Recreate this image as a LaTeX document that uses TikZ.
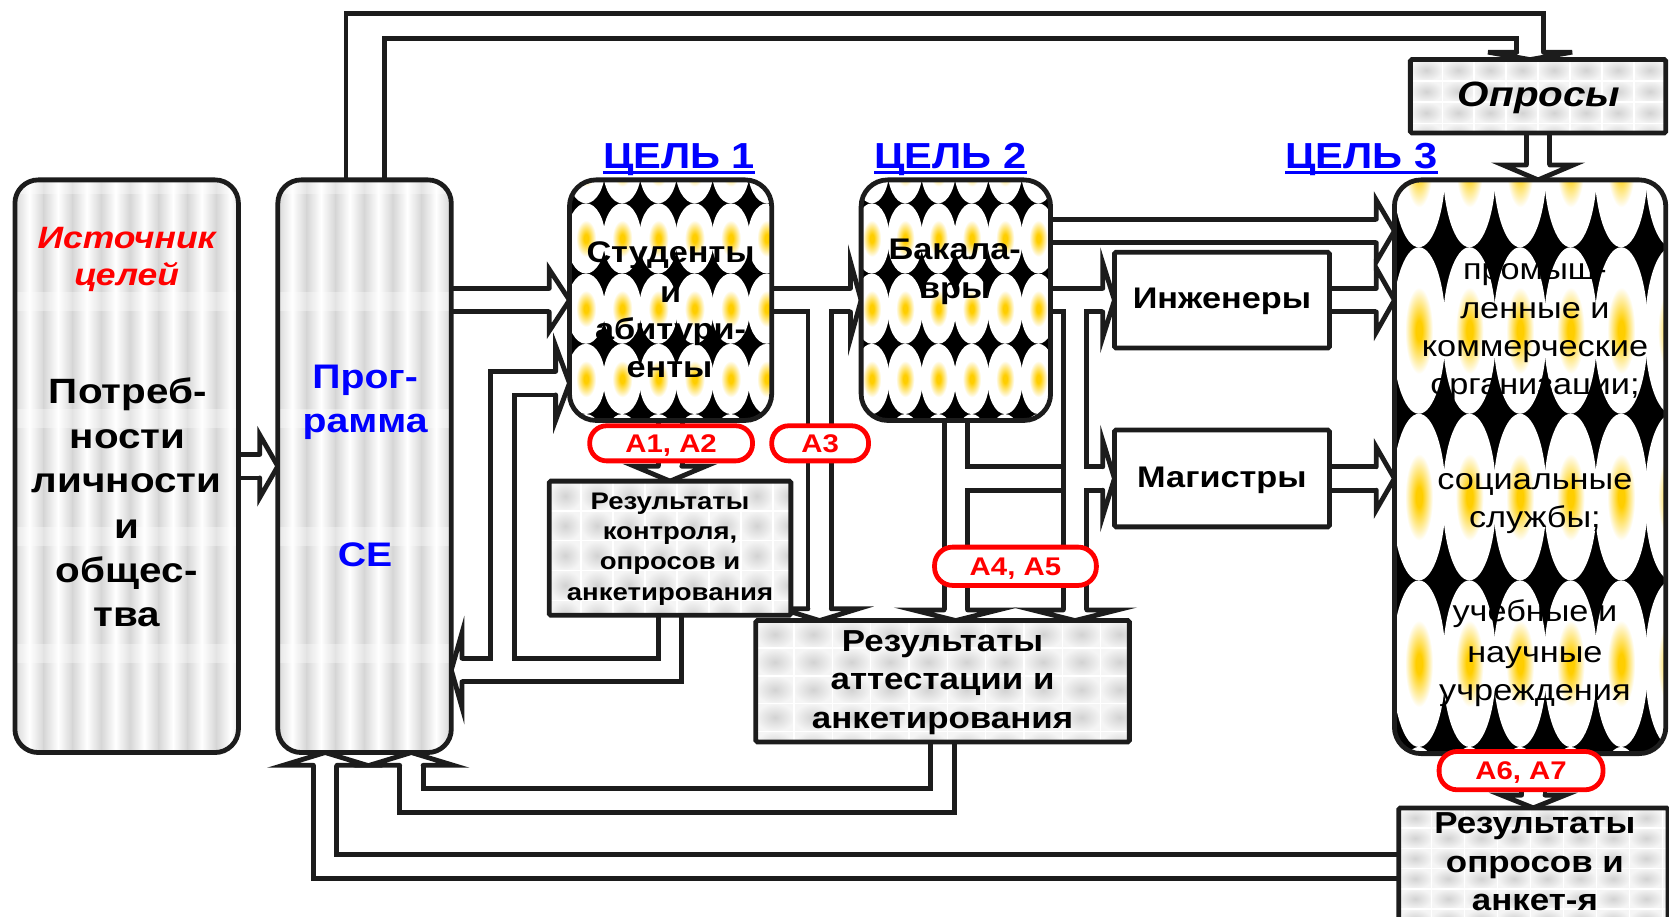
\documentclass[tikz,border=0pt]{standalone}
\usepackage{fontspec}
\setmainfont{Liberation Sans}[FakeStretch=1.15]
\usetikzlibrary{calc}
\definecolor{ink}{RGB}{28,28,28}
\definecolor{gold}{RGB}{255,206,0}
\definecolor{cblue}{RGB}{0,0,255}
\definecolor{cred}{RGB}{255,0,0}
\pgfdeclarelayer{bg}
\pgfsetlayers{bg,main}
\pgfdeclareradialshading{yspot}{\pgfpoint{0bp}{0bp}}{color(0bp)=(gold); color(3bp)=(gold); color(13bp)=(white); color(25bp)=(white); color(50bp)=(white)}

\newcommand\silverfill[4]{%
 \begin{scope}
  \clip[rounded corners=22pt] (#1,#2) rectangle (#3,#4);
  \fill[gray!22] (#1,#2) rectangle (#3,#4);
  \pgfmathsetmacro\xb{#1+27}
  \foreach \x in {#1,\xb,...,#3}
    \shade[left color=gray!32, right color=gray!32, middle color=white] (\x,#2) rectangle (\x+27,#4);
  \foreach \y in {173,283,393,504,614}
    \fill[white, opacity=.35] (#1,\y-9) rectangle (#3,\y+9);
 \end{scope}}

\newcommand\ovalfill[8]{%
 \begin{scope}
  \clip[rounded corners=24pt] (#1,#2) rectangle (#3,#4);
  \fill[black] (#1,#2) rectangle (#3,#4);
  \pgfmathsetmacro\xb{#5+#6}\pgfmathsetmacro\xe{#3+#6/2}
  \pgfmathsetmacro\yb{#7+#8}\pgfmathsetmacro\ye{#4+#8/2}
  \pgfmathsetmacro\rx{#6*0.53}\pgfmathsetmacro\ry{#8/2}
  \foreach \x in {#5,\xb,...,\xe}
   \foreach \y in {#7,\yb,...,\ye}
    \shade[shading=yspot] (\x,\y) ellipse [x radius=\rx, y radius=\ry];
 \end{scope}}

\newcommand\tilefill[6]{%
 \begin{scope}
  \clip (#1,#2) rectangle (#3,#4);
  \fill[gray!8] (#1,#2) rectangle (#3,#4);
  \pgfmathsetmacro\xb{#1+#5}\pgfmathsetmacro\yb{#2+#6}
  \pgfmathsetmacro\rx{#5/2}\pgfmathsetmacro\ry{#6/2}
  \foreach \x in {#1,\xb,...,#3}
   \foreach \y in {#2,\yb,...,#4}
    \shade[inner color=gray!35, outer color=gray!8] (\x+\rx,\y+\ry) ellipse [x radius=\rx, y radius=\ry];
  \foreach \x in {#1,\xb,...,#3} \draw[white, line width=1.4pt] (\x,#2) -- (\x,#4);
  \foreach \y in {#2,\yb,...,#4} \draw[white, line width=1.4pt] (#1,\y) -- (#3,\y);
 \end{scope}}

\newcommand\ahead[4]{%
 \begin{scope}[shift={#1}, rotate=#2]
  \fill[white] (0,0) -- (-#4,#3) -- (-#4,-#3) -- cycle;
  \draw[headln] (-#4,11) -- (-#4,#3) -- (0,0) -- (-#4,-#3) -- (-#4,-11);
 \end{scope}}

\begin{document}
\begin{tikzpicture}[x=1pt, y=-1pt,
  ln/.style={draw=ink, line width=4.5pt},
  rbox/.style={ln, rounded corners=22pt, inner sep=0pt, outer sep=0pt},
  sbox/.style={ln, rounded corners=1.5pt, inner sep=0pt, outer sep=0pt},
  pill/.style={draw=cred, line width=4.5pt, fill=white, rounded corners=16pt, inner sep=0pt, outer sep=0pt, text=cred, font=\bfseries\fontsize{24}{24}\selectfont, text height=17pt, text depth=0pt},
  pipeB/.style={draw=ink, line width=26.5pt},
  pipe/.style={draw=white, line width=17.5pt, preaction={pipeB}},
  headln/.style={draw=ink, line width=4.5pt, line cap=round, line join=miter},
  tx/.style={inner sep=0pt, anchor=base, text=black},
  tsrc/.style={tx, font=\bfseries\fontsize{33}{40}\selectfont},
  tsrcr/.style={tx, text=cred, font=\bfseries\itshape\fontsize{29}{35}\selectfont},
  tprog/.style={tx, text=cblue, font=\bfseries\fontsize{32}{40}\selectfont},
  tgoal/.style={tx, text=cblue, font=\bfseries\fontsize{34}{40}\selectfont},
  tmid/.style={tx, font=\bfseries\fontsize{28}{34}\selectfont},
  tbig/.style={tx, font=\fontsize{28}{34}\selectfont},
  trk/.style={tx, font=\bfseries\fontsize{22.5}{27}\selectfont},
  tra/.style={tx, font=\bfseries\fontsize{28.5}{34}\selectfont},
  topr/.style={tx, font=\bfseries\itshape\fontsize{33}{38}\selectfont},
]
\useasboundingbox (0,0) rectangle (1568,861);

% ---------- fills ----------
\silverfill{14}{169}{224}{707}
\silverfill{261}{169}{424}{707}
\ovalfill{535}{169}{725}{395}{550.5}{34}{158}{66}
\ovalfill{809}{169}{987}{395}{819}{31.3}{158}{66}
\ovalfill{1310}{169}{1565}{708}{1333}{47.5}{154}{156.5}
\tilefill{1325}{56}{1565}{125}{30}{20}
\tilefill{516}{452}{743}{578}{30}{28}
\tilefill{710}{583}{1061}{697}{36}{26}
\tilefill{1314}{759}{1567}{880}{31}{19}

% ---------- boxes ----------
\node[rbox, minimum width=210pt, minimum height=538pt] (src) at (119,438) {};
\node[rbox, minimum width=163pt, minimum height=538pt] (prog) at (342.5,438) {};
\node[rbox, rounded corners=25pt, minimum width=190pt, minimum height=226pt] (stud) at (630,282) {};
\node[rbox, rounded corners=25pt, minimum width=178pt, minimum height=226pt] (bach) at (898,282) {};
\node[sbox, fill=white, minimum width=202pt, minimum height=90pt] (eng) at (1148,282) {};
\node[sbox, fill=white, minimum width=202pt, minimum height=91pt] (mag) at (1148,449.5) {};
\node[rbox, rounded corners=25pt, minimum width=255pt, minimum height=539pt] (big) at (1437.5,438.5) {};
\node[sbox, minimum width=240pt, minimum height=69pt] (opr) at (1445,90.5) {};
\node[sbox, minimum width=227pt, minimum height=126pt] (rk) at (629.5,515) {};
\node[sbox, minimum width=351pt, minimum height=114pt] (ra) at (885.5,640) {};
\node[sbox, minimum width=253pt, minimum height=110pt] (ro) at (1440.5,814) {};

% ---------- connectors ----------
\begin{pgfonlayer}{bg}
\draw[pipe]
  (src.east) -- (244,438)
  (prog.east |- stud.west) -- (516,282)
  (stud.east) -- (799,282)
  (770,282) -- (770,572)
  (bach.east) -- (1036,282)
  (1010,282) -- (1010,573)
  (1010,449.5) -- (1036,449.5)
  (bach.south) -- (898,573)
  (898,449.5) -- (996.75,449.5)
  (bach.east |- 0,217) -- (1293,217)
  (eng.east) -- (1293,282)
  (mag.east) -- (1293,449.5)
  (opr.south) -- (1445,155)
  (ro.north |- big.south) -- (1440.5,747)
  (stud.south) -- (630,438)
  (rk.south) -- (629.5,629.5) -- (434,629.5)
  (472,629.5) -- (472,360) -- (522,360)
  (ra.south) -- (885.5,752) -- (386.5,752) -- (386.5,719)
  (ro.west) -- (305.5,814) -- (305.5,719);
\ahead{(prog.west)}{0}{29.5}{17}
\ahead{(stud.west)}{0}{29}{19}
\ahead{(bach.west)}{0}{36}{10}
\ahead{(770,583)}{-90}{36}{11}
\ahead{(eng.west)}{0}{35}{11}
\ahead{(1010,583)}{-90}{40}{10}
\ahead{(mag.west)}{0}{35.5}{11}
\ahead{(898,583)}{-90}{40}{10}
\ahead{(big.west |- 0,217)}{0}{29}{17}
\ahead{(big.west |- eng.east)}{0}{30}{17}
\ahead{(big.west |- mag.east)}{0}{29.5}{17}
\ahead{(opr.south |- big.north)}{-90}{33}{14}
\ahead{(ro.north)}{-90}{30}{12}
\ahead{(rk.north)}{-90}{33.5}{14}
\ahead{(prog.east |- 0,629.5)}{180}{35}{10}
\ahead{(stud.west |- 0,360)}{0}{35}{13}
\ahead{(386.5,707)}{90}{39.5}{12}
\ahead{(305.5,707)}{90}{39.5}{12}
% top loop to "Опросы"
\draw[ln] (prog.north -| 325,0) -- (325,13) -- (1450,13) -- (1450,49);
\draw[ln] (prog.north -| 361,0) -- (361,36) -- (1425,36) -- (1425,49);
\fill[white] (1398,49) -- (1437.5,56) -- (1477,49) -- cycle;
\draw[headln] (1425,49) -- (1398,49) -- (1437.5,56) -- (1477,49) -- (1450,49);
\end{pgfonlayer}

% ---------- texts ----------
\node[tsrcr] (s1) at (119,233) {Источник};
\node[tsrcr] (s2) at (119,268) {целей};
\node[tsrc] (s3) at (120,379.5) {Потреб-};
\node[tsrc] (s4) at (120,421) {ности};
\node[tsrc] (s5) at (119,463) {личности};
\node[tsrc] (s6) at (119,505.5) {и};
\node[tsrc] (s7) at (119,547) {общес-};
\node[tsrc] (s8) at (119,589) {тва};

\node[tprog] (p1) at (343,365) {Прог-};
\node[tprog] (p2) at (343,406) {рамма};
\node[tprog] (p3) at (343,532.5) {СЕ};

\node[tgoal] (g1) at (638,158) {ЦЕЛЬ 1};
\node[tgoal] (g2) at (893,158) {ЦЕЛЬ 2};
\node[tgoal] (g3) at (1279,158) {ЦЕЛЬ 3};
\foreach \g in {g1,g2,g3}
  \draw[cblue, line width=3pt] ([yshift=-4pt]\g.base west) -- ([yshift=-4pt]\g.base east);

\node[tmid] (st1) at (630,247) {Студенты};
\node[tmid] (st2) at (630,284) {и};
\node[tmid] (st3) at (630,319) {абитури-};
\node[tmid] (st4) at (629,355) {енты};

\node[tmid] (b1) at (897,244) {Бакала-};
\node[tmid] (b2) at (897,280) {вры};

\node[tmid] (e1) at (1148,290) {Инженеры};
\node[tmid] (m1) at (1148,458) {Магистры};

\node[tbig] (o1) at (1442,263) {промыш-};
\node[tbig] (o2) at (1442,299) {ленные и};
\node[tbig] (o3) at (1442,335) {коммерческие};
\node[tbig] (o4) at (1442,371) {организации;};
\node[tbig] (o5) at (1442,460) {социальные};
\node[tbig] (o6) at (1442,496) {службы;};
\node[tbig] (o7) at (1442,584) {учебные и};
\node[tbig] (o8) at (1442,622) {научные};
\node[tbig] (o9) at (1442,658) {учреждения};

\node[topr] (q1) at (1446,100) {Опросы};

\node[trk] (k1) at (629.5,479) {Результаты};
\node[trk] (k2) at (629.5,507) {контроля,};
\node[trk] (k3) at (629.5,535.5) {опросов и};
\node[trk] (k4) at (629.5,564) {анкетирования};

\node[tra] (a1) at (885.5,612) {Результаты};
\node[tra] (a2) at (885.5,648) {аттестации и};
\node[tra] (a3) at (885.5,684) {анкетирования};

\node[tra] (r1) at (1442,783) {Результаты};
\node[tra] (r2) at (1442,820) {опросов и};
\node[tra] (r3) at (1442,855) {анкет-я};

% ---------- labels ----------
\node[pill, minimum width=153pt, minimum height=33pt] (l12) at (630.5,416.5) {A1, A2};
\node[pill, minimum width=91pt, minimum height=33pt] (l3) at (770.5,416.5) {A3};
\node[pill, rounded corners=17pt, minimum width=152pt, minimum height=36pt] (l45) at (954,532) {A4, A5};
\node[pill, rounded corners=17pt, minimum width=154pt, minimum height=36pt] (l67) at (1429,724) {A6, A7};
\end{tikzpicture}
\end{document}
